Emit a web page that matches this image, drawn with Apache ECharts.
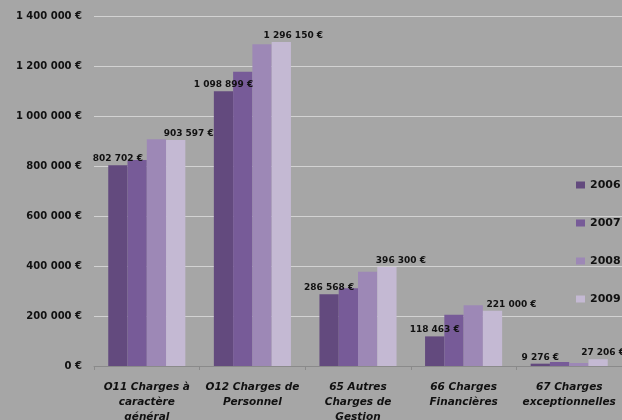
<!DOCTYPE html>
<html>
<head>
<meta charset="utf-8">
<script src="https://cdn.jsdelivr.net/npm/echarts@6/dist/echarts.min.js"></script>
<style>
html, body { margin: 0; padding: 0; background: #a6a6a6; }
#main { width: 622px; height: 420px; }
</style>
</head>
<body>
<div id="main"></div>
<script>
// chapitres budgétaires
var categories = [
    'O11 Charges à\ncaractère\ngénéral',
    'O12 Charges de\nPersonnel',
    '65 Autres\nCharges de\nGestion',
    '66 Charges\nFinancières',
    '67 Charges\nexceptionnelles'
];
var years = ['2006', '2007', '2008', '2009'];
var values2006 = [802702, 1098899, 286568, 118463, 9276];
var values2007 = [824000, 1177000, 311000, 205000, 16000];
var values2008 = [907000, 1287000, 377000, 243000, 12000];
var values2009 = [903597, 1296150, 396300, 221000, 27206];
var yTicks = [0, 200000, 400000, 600000, 800000, 1000000, 1200000, 1400000];

var colors = ['#634a7e', '#775b98', '#9d88b6', '#c4b9d3'];
// décalage horizontal des étiquettes 2009 (comme dans Excel)
var shift2009 = [13, 12, 14, 19, 5];

function euro(v) {
    return String(Math.round(v)).replace(/\B(?=(\d{3})+(?!\d))/g, ' ') + ' €';
}

var labelFont = {
    fontFamily: 'DejaVu Sans',
    fontWeight: 'bold',
    fontSize: 9,
    color: '#111'
};

function labelled(vals, shifts) {
    return vals.map(function (v, i) {
        var lab = Object.assign({
            show: true,
            position: 'top',
            distance: 2,
            formatter: function (p) { return euro(p.value); }
        }, labelFont);
        if (shifts) lab.offset = [shifts[i], 0];
        return { value: v, label: lab };
    });
}

var main = echarts.init(document.getElementById('main'));
var option = {
    backgroundColor: '#a6a6a6',
    color: colors,
    animation: false,
    grid: {
        left: 94,
        right: 0,
        top: 16,
        bottom: 54,
        containLabel: false,
        outerBoundsMode: 'none'
    },
    legend: {
        orient: 'vertical',
        left: 571,
        top: 174,
        itemWidth: 9,
        itemHeight: 7,
        itemGap: 26,
        icon: 'rect',
        data: years,
        textStyle: {
            fontFamily: 'DejaVu Sans',
            fontWeight: 'bold',
            fontSize: 11,
            lineHeight: 12,
            color: '#111'
        }
    },
    xAxis: {
        type: 'category',
        data: categories,
        axisLine: { lineStyle: { color: '#8a8a8a', width: 1 } },
        axisTick: { show: true, length: 4, lineStyle: { color: '#8a8a8a' } },
        axisLabel: {
            interval: 0,
            margin: 14,
            fontFamily: 'DejaVu Sans',
            fontWeight: 'bold',
            fontStyle: 'italic',
            fontSize: 10.5,
            lineHeight: 15,
            color: '#111'
        }
    },
    yAxis: {
        type: 'value',
        min: yTicks[0],
        max: yTicks[yTicks.length - 1],
        interval: yTicks[1] - yTicks[0],
        axisLine: { show: false },
        axisTick: { show: false },
        splitLine: { lineStyle: { color: '#d2d2d2', width: 1 } },
        axisLabel: {
            margin: 12,
            fontFamily: 'DejaVu Sans',
            fontWeight: 'bold',
            fontSize: 10,
            color: '#111',
            formatter: euro
        }
    },
    series: [
        {
            name: years[0],
            type: 'bar',
            barGap: '0%',
            barCategoryGap: '27%',
            data: labelled(values2006)
        },
        {
            name: years[1],
            type: 'bar',
            barGap: '0%',
            barCategoryGap: '27%',
            data: values2007
        },
        {
            name: years[2],
            type: 'bar',
            barGap: '0%',
            barCategoryGap: '27%',
            data: values2008
        },
        {
            name: years[3],
            type: 'bar',
            barGap: '0%',
            barCategoryGap: '27%',
            data: labelled(values2009, shift2009)
        }
    ]
};
main.setOption(option);
</script>
</body>
</html>
